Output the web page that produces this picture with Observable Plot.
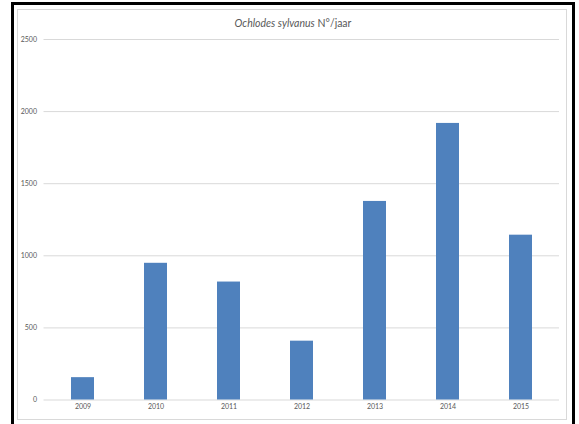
<!DOCTYPE html>
<html>
<head>
<meta charset="utf-8">
<script src="https://cdn.jsdelivr.net/npm/d3@7"></script>
<script src="https://cdn.jsdelivr.net/npm/@observablehq/plot@0.6"></script>
<style>
  html, body { margin: 0; padding: 0; background: #fff; }
  #wrap { position: relative; width: 579px; height: 424px; overflow: hidden; font-family: Lato, "Open Sans", sans-serif; }
  #outer { position: absolute; left: 11px; top: 2px; width: 558px; height: 420px; border: 3px solid #000; }
  #inner { position: absolute; left: 17px; top: 9px; width: 548px; height: 409px; border: 1px solid #D9D9D9; }
  #title { position: absolute; left: 0; width: 586px; top: 17px; text-align: center; font-size: 10.5px; color: #595959; }
  #chart { position: absolute; left: 0; top: 0; }
</style>
</head>
<body>
<div id="wrap">
  <div id="outer"></div>
  <div id="inner"></div>
  <div id="title"><i>Ochlodes sylvanus</i> N°/jaar</div>
  <div id="chart"></div>
</div>
<script>
const years = ["2009", "2010", "2011", "2012", "2013", "2014", "2015"];
const counts = [155, 948, 818, 408, 1377, 1918, 1143];
const yTicks = [0, 500, 1000, 1500, 2000, 2500];

const data = years.map((y, i) => ({year: y, count: counts[i]}));

const chart = Plot.plot({
  width: 579,
  height: 424,
  marginLeft: 43.5,
  marginRight: 20,
  marginTop: 39,
  marginBottom: 24.5,
  style: {background: "transparent", fontFamily: "Lato, 'Open Sans', sans-serif", fontSize: "7px", color: "#595959"},
  x: {domain: years, paddingInner: 0.69, paddingOuter: 0.345, label: null},
  y: {domain: [0, 2500], label: null},
  marks: [
    Plot.ruleY(yTicks, {stroke: "#D9D9D9", strokeWidth: 1}),
    Plot.barY(data, {x: "year", y: "count", fill: "#4F81BD"}),
    Plot.axisY({ticks: yTicks, tickSize: 0, tickPadding: 7, label: null, tickFormat: d => String(d)}),
    Plot.axisX({tickSize: 0, tickPadding: 4, label: null})
  ]
});
document.getElementById("chart").appendChild(chart);
</script>
</body>
</html>
